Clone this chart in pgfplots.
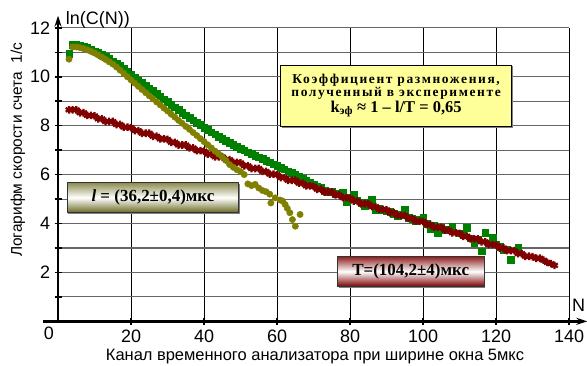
\documentclass[border=0pt]{standalone}
\usepackage{pgfplots}
\pgfplotsset{compat=1.18}
\usepackage{fontspec}
\setmainfont{Liberation Sans}
\newfontfamily\tnr{Liberation Serif}
\usetikzlibrary{arrows.meta,shadows}
\definecolor{cgreen}{RGB}{0,128,0}
\definecolor{colive}{RGB}{128,128,0}
\definecolor{cred}{RGB}{128,0,0}
\definecolor{cyellow}{RGB}{255,255,153}
\begin{document}
\begin{tikzpicture}
\begin{axis}[
  scale only axis, width=512pt, height=294pt,
  xmin=0, xmax=140, ymin=0, ymax=12,
  clip=false,
  axis line style={draw=none},
  xtick={20,40,60,80,100,120,140},
  xticklabels={20,40,60,80,100,120,140},
  ytick={1,2,3,4,5,6,7,8,9,10,11,12},
  yticklabels={,2,,4,,6,,8,,10,,12},
  xtick pos=bottom, ytick pos=left,
  tick align=center, major tick length=7pt,
  tick style={black, line width=1.6pt},
  grid=major,
  x grid style={black, line width=0.8pt},
  y grid style={black!60, line width=1.1pt},
  tick label style={font=\fontsize{18}{20}\selectfont},
  /pgf/number format/assume math mode=true,
  xticklabel style={yshift=-2pt},
  yticklabel style={xshift=-1pt},
]
% green squares
\addplot[only marks, mark=square*, mark size=3.3pt, color=cgreen] coordinates {
(3,10.95)(4,11.32)(5,11.32)(6,11.28)(7,11.24)(8,11.18)(9,11.12)(10,11.05)(11,10.98)(12,10.9)
(13,10.82)(14,10.73)(15,10.64)(16,10.55)(17,10.45)(18,10.33)(19,10.2)(20,10.08)(21,9.97)(22,9.86)
(23,9.75)(24,9.64)(25,9.53)(26,9.42)(27,9.31)(28,9.2)(29,9.09)(30,8.98)(31,8.87)(32,8.76)
(33,8.65)(34,8.54)(35,8.43)(36,8.33)(37,8.23)(38,8.13)(39,8.03)(40,7.93)(41,7.83)(42,7.74)
(43,7.65)(44,7.56)(45,7.47)(46,7.39)(47,7.31)(48,7.23)(49,7.15)(50,7.07)(51,6.99)(52,6.92)
(53,6.85)(54,6.78)(55,6.71)(56,6.64)(57,6.57)(58,6.5)(59,6.43)(60,6.36)(61,6.29)(62,6.22)
(63,6.14)(64,6.07)(65,6.0)(66,5.92)(67,5.84)(68,5.76)(69,5.68)(70,5.6)(71,5.52)(72,5.46)
(73,5.35)(74,5.3)(75,5.3)(76,5.22)(77,5.2)(78,5.25)(79,4.87)(80,5.05)(81,5.18)(82,4.95)
(83,4.85)(84,4.71)(85,4.85)(86,4.98)(87,4.57)(88,4.62)(89,4.55)(90,4.5)(91,4.48)(92,4.4)
(93,4.3)(94,4.35)(95,4.57)(96,4.25)(97,4.2)(98,4.09)(99,4.15)(100,4.23)(101,4.0)(102,3.8)
(103,3.9)(104,3.62)(105,3.85)(106,3.75)(108,3.89)(110,3.6)(111,3.55)(112,3.82)(113,3.4)(114,3.21)
(115,3.35)(116,2.87)(117,3.62)(118,3.2)(119,3.41)(120,3.15)(121,3.05)(122,2.94)(123,2.95)(124,2.53)
(126,3.0)
};
% red crosses
\addplot[only marks, mark=asterisk, mark size=3.8pt, line width=2.2pt, color=cred] coordinates {
(3,8.65)(4,8.65)(5,8.65)(6,8.53)(7,8.53)(8,8.42)(9,8.42)(10,8.40)(11,8.28)(12,8.28)
(13,8.17)(14,8.17)(15,8.17)(16,8.05)(17,8.05)(18,7.94)(19,7.94)(20,7.92)(21,7.80)(22,7.80)
(23,7.69)(24,7.69)(25,7.69)(26,7.57)(27,7.57)(28,7.46)(29,7.46)(30,7.44)(31,7.32)(32,7.32)
(33,7.21)(34,7.21)(35,7.21)(36,7.09)(37,7.09)(38,6.98)(39,6.98)(40,6.96)(41,6.84)(42,6.84)
(43,6.73)(44,6.73)(45,6.73)(46,6.61)(47,6.61)(48,6.50)(49,6.50)(50,6.48)(51,6.36)(52,6.36)
(53,6.25)(54,6.25)(55,6.25)(56,6.13)(57,6.13)(58,6.02)(59,6.02)(60,6.00)(61,5.88)(62,5.88)
(63,5.77)(64,5.77)(65,5.77)(66,5.65)(67,5.65)(68,5.54)(69,5.54)(70,5.52)(71,5.40)(72,5.40)
(73,5.29)(74,5.29)(75,5.29)(76,5.17)(77,5.17)(78,5.06)(79,5.06)(80,5.04)(81,4.92)(82,4.92)
(83,4.81)(84,4.81)(85,4.81)(86,4.69)(87,4.69)(88,4.58)(89,4.58)(90,4.56)(91,4.44)(92,4.44)
(93,4.33)(94,4.33)(95,4.33)(96,4.21)(97,4.21)(98,4.10)(99,4.10)(100,4.08)(101,3.96)(102,3.96)
(103,3.85)(104,3.85)(105,3.85)(106,3.73)(107,3.73)(108,3.62)(109,3.62)(110,3.60)(111,3.48)(112,3.48)
(113,3.37)(114,3.37)(115,3.37)(116,3.25)(117,3.25)(118,3.14)(119,3.14)(120,3.12)(121,3.00)(122,3.00)
(123,2.89)(124,2.89)(125,2.89)(126,2.77)(127,2.77)(128,2.66)(129,2.66)(130,2.64)(131,2.58)(132,2.58)
(133,2.50)(134,2.41)(135,2.36)(136,2.29)
};
% olive circles
\addplot[only marks, mark=*, mark size=3.2pt, color=colive] coordinates {
(3,10.72)(4,11.22)(5,11.22)(6,11.19)(7,11.15)(8,11.1)(9,11.04)(10,10.97)(11,10.89)(12,10.8)
(13,10.71)(14,10.61)(15,10.52)(16,10.4)(17,10.27)(18,10.14)(19,10.0)(20,9.87)(21,9.74)(22,9.61)
(23,9.48)(24,9.35)(25,9.22)(26,9.1)(27,8.97)(28,8.85)(29,8.72)(30,8.6)(31,8.47)(32,8.35)
(33,8.22)(34,8.1)(35,7.97)(36,7.85)(37,7.72)(38,7.6)(39,7.47)(40,7.35)(41,7.22)(42,7.09)
(43,6.96)(44,6.84)(45,6.72)(46,6.58)(47,6.41)(48,6.3)(49,6.2)(50,6.12)(51,6.0)(52,5.62)
(53,5.55)(54,5.6)(55,5.45)(56,5.35)(57,5.3)(58,5.2)(58.3,4.84)(59.5,5.05)(60.8,4.96)(61.5,4.92)
(62.2,4.78)(62.8,4.62)(63.5,4.44)(64.2,4.16)(65,3.89)(66.3,4.37)
};
% axes with arrows
\draw[line width=2.6pt, -{Stealth[length=11pt,width=7pt]}] (axis cs:-4,0) -- (axis cs:145,0);
\draw[line width=2.6pt, -{Stealth[length=11pt,width=7pt]}] (axis cs:0,-0.08) -- (axis cs:0,12.5);
% axis labels
\node[anchor=west, font=\fontsize{18}{20}\selectfont] at (axis cs:1.2,12.33) {ln(C(N))};
\node[font=\fontsize{18}{20}\selectfont] at (axis cs:142.6,0.65) {N};
\node[font=\fontsize{18}{20}\selectfont] at (axis cs:-2.5,-0.5) {0};
\node[font=\fontsize{16.5}{18}\selectfont] at (axis cs:70.4,-1.43) {Канал временного анализатора при ширине окна 5мкс};
\node[rotate=90, font=\fontsize{15.5}{17}\selectfont] at (axis cs:-11,7.02) {Логарифм скорости счета\ \ 1/с};
% text boxes
\node[draw=black, line width=0.8pt, fill=cyellow, drop shadow={shadow xshift=1.5pt, shadow yshift=-1.5pt, fill=black!50, opacity=1},
  minimum width=232pt, minimum height=62pt, inner sep=2pt, align=center]
  at (axis cs:92.6,9.22)
  {\tnr\bfseries\fontsize{13.5}{16.5}\selectfont\addfontfeature{LetterSpace=12}Коэффициент размножения,\\
   \tnr\bfseries\fontsize{13.5}{17}\selectfont\addfontfeature{LetterSpace=12}полученный в эксперименте\\
   \tnr\bfseries\fontsize{16.5}{18}\selectfont k\textsubscript{эф} ≈ 1 – l/T = 0,65};
\node[draw=black!80, line width=0.8pt,
  top color={rgb,255:red,140;green,140;blue,80}, bottom color={rgb,255:red,105;green,105;blue,35}, middle color=white,
  drop shadow={shadow xshift=1.2pt, shadow yshift=-1.2pt, fill=black!50, opacity=1},
  minimum width=172pt, minimum height=30pt, inner sep=2pt]
  at (axis cs:26,5.06)
  {\tnr\bfseries\fontsize{17}{19}\selectfont\textit{l} = (36,2±0,4)мкс};
\node[draw=black!80, line width=0.8pt,
  top color={rgb,255:red,140;green,30;blue,30}, bottom color={rgb,255:red,125;green,0;blue,0}, middle color=white,
  drop shadow={shadow xshift=1.2pt, shadow yshift=-1.2pt, fill=black!50, opacity=1},
  minimum width=147pt, minimum height=30pt, inner sep=2pt]
  at (axis cs:96.6,2.04)
  {\tnr\bfseries\fontsize{17}{19}\selectfont T=(104,2±4)мкс};
\coordinate (bl) at (axis cs:-15.9,-1.8);
\coordinate (tr) at (axis cs:144.9,13.14);
\end{axis}
\pgfresetboundingbox
\path (bl) rectangle (tr);
\end{tikzpicture}
\end{document}
